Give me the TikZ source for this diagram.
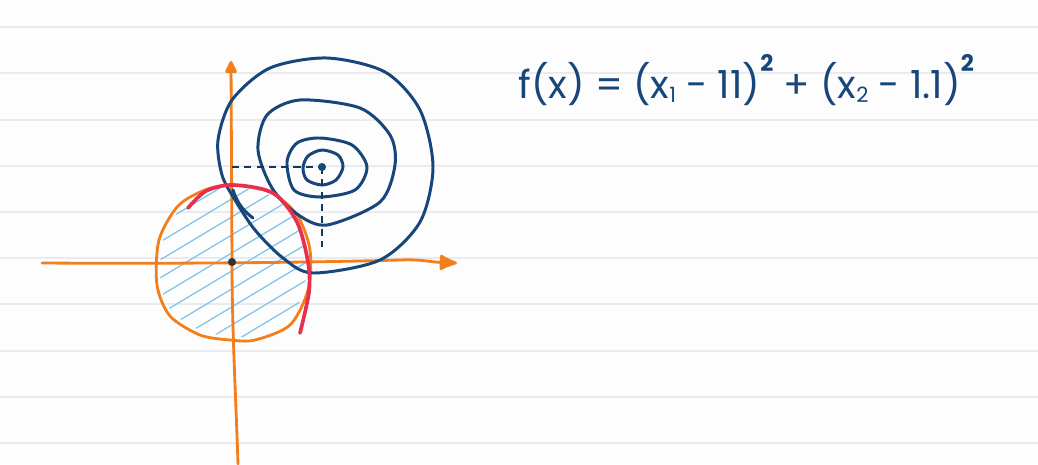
\documentclass[tikz,border=0pt]{standalone}
\usepackage{fontspec}
\newfontfamily\hand{Poppins}
\usetikzlibrary{arrows.meta}
\definecolor{paper}{HTML}{FDFDFE}
\definecolor{rule}{HTML}{EBEBEF}
\definecolor{ink}{HTML}{17467A}
\definecolor{orng}{HTML}{F27F1B}
\definecolor{redink}{HTML}{E8304E}
\definecolor{hatch}{HTML}{7EC4E8}
\tikzset{
  ruled/.style={rule, line width=0.6pt},
  axis/.style={orng, line width=1.6pt, line cap=round},
  contour/.style={ink, line width=1.7pt, line cap=round, line join=round},
  hatchline/.style={hatch, line width=0.7pt},
  guide/.style={ink!80!black, line width=0.6pt, dash pattern=on 4pt off 3pt},
}
\newcommand{\sq}{\raisebox{1.25ex}{\fontsize{13}{13}\selectfont\bfseries 2}}
\newcommand{\sub}[1]{\raisebox{-0.2ex}{\fontsize{12}{12}\selectfont #1}}
\begin{document}
\begin{tikzpicture}[x=0.02cm,y=-0.02cm]
\fill[paper] (0,0) rectangle (1038,464);
\useasboundingbox (0,0) rectangle (1038,464);
\foreach \y in {27,73,120,166,212,258,304,351,397,443}
  \draw[ruled] (0,\y) -- (1038,\y);

\coordinate (O) at (232,262);
\coordinate (C) at (322,167);

% hatching inside constraint region
\begin{scope}
\clip plot[smooth cycle] coordinates {(232,187) (268,194) (294,217) (306,250) (304,290) (287,322) (255,336) (230,336) (202,331) (173,313) (161,285) (163,240) (181,208) (206,192)};
\foreach \i in {-12,...,16}
  \draw[hatchline] (100,{170+\i*18}) -- ++(320,-192);
\end{scope}

% constraint circle (orange)
\draw[orng, line width=1.6pt] plot[smooth cycle] coordinates {(232,185) (270,192) (297,215) (310,250) (308,290) (290,325) (255,340) (230,340) (200,335) (170,316) (157,285) (159,240) (178,206) (205,190)};

% axes
\coordinate (xs) at (42,263);
\coordinate (xe) at (457,263);
\coordinate (ys) at (238,464);
\coordinate (ye) at (231,61);
\draw[axis, -{Latex[round,length=12pt,width=10pt]}] (xs) .. controls (200,264) and (330,262) .. (400,260) .. controls (420,259) and (430,262) .. (xe);
\draw[axis, -{Triangle[round,length=8pt,width=7pt]}] (ys) .. controls (236,400) and (232,330) .. (O) -- (ye);

% contours of f
\draw[contour] plot[smooth cycle] coordinates {(327,58) (385,72) (420,110) (433,167) (420,222) (380,260) (313,273) (283,258) (255,230) (235,200) (222,175) (218,140) (232,100) (270,68)};
\draw[contour] plot[smooth cycle] coordinates {(300,100) (360,108) (390,135) (395,165) (380,202) (327,225) (297,214) (272,188) (258,150) (267,115)};
\draw[contour] plot[smooth cycle] coordinates {(320,138) (352,145) (367,167) (355,190) (320,197) (294,190) (287,162) (297,143)};
\draw[contour] plot[smooth cycle] coordinates {(322,150) (338,155) (343,167) (336,180) (322,185) (307,180) (303,168) (308,156)};
\draw[contour] (233,190) .. controls (238,205) and (245,212) .. (253,218);

% active part of the constraint (red)
\draw[redink, line width=2.1pt, line cap=round] plot[smooth] coordinates {(188,208) (206,191) (233,185) (273,193) (297,222) (308,262) (309,292) (300,333)};

% guides to the optimum
\draw[guide] (232,167) -- (C);
\draw[guide] (C) -- (322,247);
\fill[ink] (C) circle (2.3pt);
\fill[black!80] (O) circle (2.3pt);

% objective
\node[ink, anchor=west, inner sep=0pt, font=\hand\fontsize{22}{26}\selectfont] (f) at (518,80)
  {f(x) = (x\sub{1} - 11)\sq{} + (x\sub{2} - 1.1)\sq};
\end{tikzpicture}
\end{document}
